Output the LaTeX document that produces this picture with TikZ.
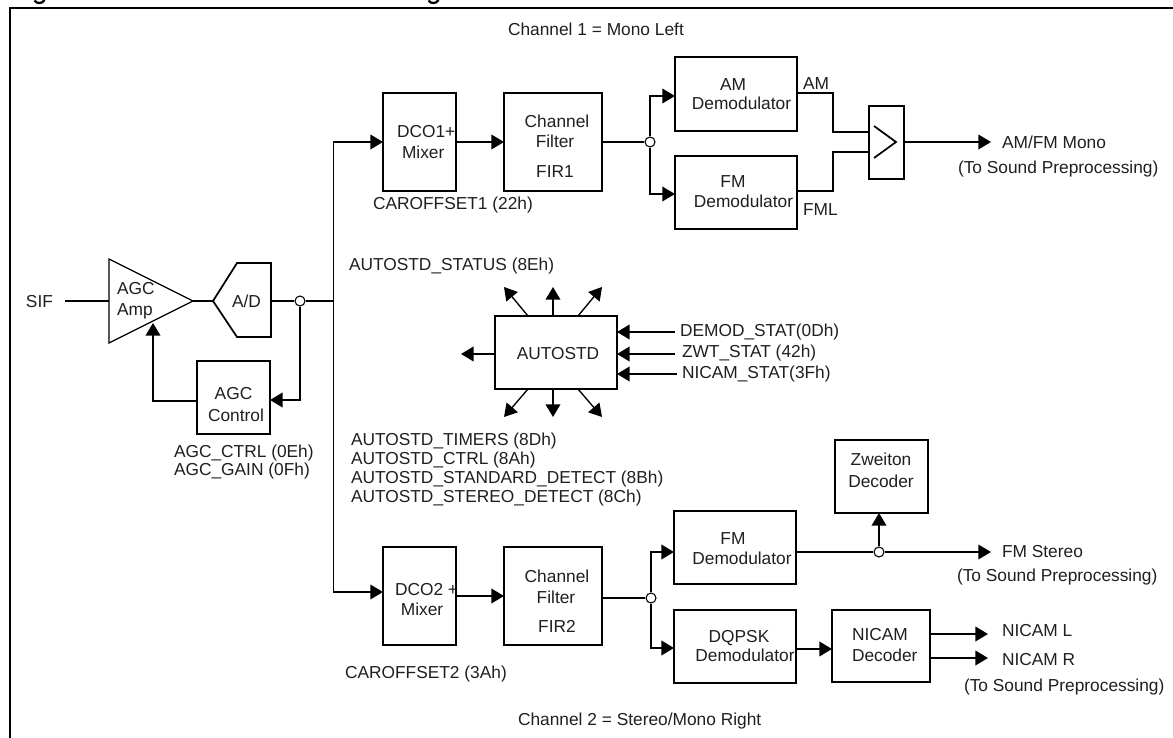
\documentclass[tikz,border=0pt]{standalone}
\usepackage{fontspec}
\setmainfont{Liberation Sans}
\usetikzlibrary{arrows.meta}
\tikzset{
  x=0.75pt,y=-0.75pt,
  blk/.style={draw,line width=1.3pt,inner sep=0pt,outer sep=0pt},
  txt/.style={inner sep=0pt,outer sep=0pt,font=\fontsize{13}{15}\selectfont,text height=9.3pt,text depth=0pt,text=black!88},
  lbl/.style={txt,anchor=west},
  wire/.style={line width=1.3pt},
  thinw/.style={line width=1.0pt},
  arr/.style={wire,-{Triangle[length=9.5pt,width=11pt]}},
  thinarr/.style={thinw,-{Triangle[length=9.5pt,width=11pt]}},
  dotn/.style={circle,draw,fill=white,line width=0.8pt,minimum size=7.5pt,inner sep=0pt},
}
% name, x1, y1, x2, y2
\newcommand{\bx}[5]{\node[blk,minimum width={(#4-#2)*0.75pt},minimum height={(#5-#3)*0.75pt}] (#1) at ({(#2+#4)/2},{(#3+#5)/2}) {};}
\begin{document}
\begin{tikzpicture}
\useasboundingbox (0,0) rectangle (1173,738);
% frame and the cut title's descenders
\draw[line width=1.5pt] (10,738) -- (10,8) -- (1173,8);
\draw[line width=1.7pt] (34.5,0.5) .. controls (37,4) and (42,4) .. (44.5,0);
\draw[line width=1.7pt] (428.5,0.5) .. controls (431,4) and (436,4) .. (438.5,0);
% captions
\node[lbl] (ch1) at (508,29) {Channel 1 = Mono Left};
\node[lbl] (ch2) at (518,719) {Channel 2 = Stereo/Mono Right};
% input
\node[lbl] (sif) at (26,301) {SIF};
\coordinate (sifend) at (65,301);
\draw[line width=0.9pt] (109,259) -- (193,301) -- (109,343) -- cycle;
\coordinate (ampin) at (109,301);
\coordinate (ampout) at (193,301);
\coordinate (ampfb) at (153,323);
\node[lbl] (ampa) at (117,288) {AGC};
\node[lbl] (ampb) at (117,309) {Amp};
\draw[wire] (213,301) -- (237,263) -- (271,263) -- (271,337) -- (237,337) -- cycle;
\coordinate (adin) at (213,301);
\coordinate (adout) at (271,301);
\node[lbl] (adt) at (232,301) {A/D};
\coordinate (bus) at (333.5,301);
\node[dotn] (d0) at (300,301) {};
\draw[wire] (sifend) -- (ampin);
\draw[wire] (ampout) -- (adin);
\draw[wire] (adout) -- (d0) -- (bus);
\bx{agc}{197}{361}{270}{434}
\node[txt] (agca) at (233.5,393) {AGC};
\node[txt] (agcb) at (236,415) {Control};
\draw[arr] (d0) -- (300,400) -- (agc.east |- 0,400);
\draw[arr] (agc.west |- 0,401) -- (153,401) -- (ampfb);
\node[lbl] (agct1) at (174,451) {AGC\_CTRL (0Eh)};
\node[lbl] (agct2) at (174,469) {AGC\_GAIN (0Fh)};
% channel 1
\bx{dco1}{383}{93}{456}{191}
\node[lbl] (dco1a) at (397,131) {DCO1+};
\node[lbl] (dco1b) at (402,152) {Mixer};
\bx{fir1}{504}{93}{602}{191}
\node[txt] (fir1a) at (557,121) {Channel};
\node[txt] (fir1b) at (555,141) {Filter};
\node[txt] (fir1c) at (555,171) {FIR1};
\node[lbl] (caro1) at (373,203) {CAROFFSET1 (22h)};
\draw[arr] (bus) -- (333.5,142) -- (dco1.west);
\draw[arr] (dco1.east) -- (fir1.west);
\bx{am}{675}{57}{797}{131}
\node[txt] (ama) at (733,84) {AM};
\node[txt] (amb) at (741.5,103) {Demodulator};
\bx{fm}{675}{156}{797}{229}
\node[txt] (fma) at (733,181) {FM};
\node[txt] (fmb) at (743.5,201) {Demodulator};
\node[dotn] (d1) at (650,142) {};
\draw[wire] (fir1.east) -- (d1);
\draw[thinarr] (d1) -- (650,96) -- (am.west |- 0,96);
\draw[thinarr] (d1) -- (650,194) -- (fm.west |- 0,194);
\node[lbl] (amout) at (803,83) {AM};
\node[lbl] (fmlout) at (803,209) {FML};
\bx{mux}{869}{106}{904}{179}
\draw[wire] (874,126) -- (896,142) -- (874,158);
\draw[wire] (am.east |- 0,93) -- (833,93) -- (833,132) -- (mux.west |- 0,132);
\draw[wire] (fm.east |- 0,191) -- (833,191) -- (833,152) -- (mux.west |- 0,152);
\coordinate (monoend) at (991,142);
\draw[arr] (mux.east |- monoend) -- (monoend);
\node[lbl] (mono) at (1002,142) {AM/FM Mono};
\node[lbl] (monop) at (958,167) {(To Sound Preprocessing)};
% AUTOSTD
\node[lbl] (stat) at (349,264) {AUTOSTD\_STATUS (8Eh)};
\bx{auto}{495}{316}{617}{389}
\node[txt] (autot) at (558,353) {AUTOSTD};
\coordinate (ul) at (504,287); \coordinate (uc) at (553,287); \coordinate (ur) at (602,287);
\coordinate (dl) at (504,417); \coordinate (dc) at (553,417); \coordinate (dr) at (602,417);
\coordinate (lf) at (461,354);
\draw[thinarr] (528,316) -- (ul);
\draw[arr] (uc |- auto.north) -- (uc);
\draw[thinarr] (578,316) -- (ur);
\draw[thinarr] (528,389) -- (dl);
\draw[arr] (dc |- auto.south) -- (dc);
\draw[thinarr] (578,389) -- (dr);
\draw[arr] (auto.west |- lf) -- (lf);
\node[lbl] (dem) at (680,330) {DEMOD\_STAT(0Dh)};
\node[lbl] (zwt) at (682,351) {ZWT\_STAT (42h)};
\node[lbl] (nic) at (682,372) {NICAM\_STAT(3Fh)};
\coordinate (demt) at (675,332);
\coordinate (zwtt) at (675,354);
\coordinate (nict) at (677,374);
\draw[arr] (demt) -- (auto.east |- demt);
\draw[arr] (zwtt) -- (auto.east |- zwtt);
\draw[arr] (nict) -- (auto.east |- nict);
\node[lbl] (t1) at (351,439) {AUTOSTD\_TIMERS (8Dh)};
\node[lbl] (t2) at (351,458) {AUTOSTD\_CTRL (8Ah)};
\node[lbl] (t3) at (351,477) {AUTOSTD\_STANDARD\_DETECT (8Bh)};
\node[lbl] (t4) at (351,496) {AUTOSTD\_STEREO\_DETECT (8Ch)};
% channel 2
\bx{dco2}{383}{547}{456}{645}
\node[lbl] (dco2a) at (395,589) {DCO2 +};
\node[txt] (dco2b) at (422,609) {Mixer};
\bx{fir2}{504}{547}{602}{645}
\node[txt] (fir2a) at (557,576) {Channel};
\node[txt] (fir2b) at (556,597) {Filter};
\node[txt] (fir2c) at (557,626) {FIR2};
\node[lbl] (caro2) at (345,672) {CAROFFSET2 (3Ah)};
\draw[arr] (bus) -- (333.5,592) -- (dco2.west |- 0,592);
\draw[arr] (dco2.east) -- (fir2.west);
\bx{fm2}{674}{511}{796}{584}
\node[txt] (fm2a) at (733,538) {FM};
\node[txt] (fm2b) at (742,558) {Demodulator};
\bx{dq}{674}{610}{796}{683}
\node[txt] (dqa) at (739,636) {DQPSK};
\node[txt] (dqb) at (745,655) {Demodulator};
\node[dotn] (d2) at (651,598) {};
\draw[wire] (fir2.east |- d2) -- (d2);
\draw[arr] (d2) -- (651,552) -- (fm2.west |- 0,552);
\draw[arr] (d2) -- (651,648) -- (dq.west |- 0,648);
\bx{zw}{835}{440}{928}{513}
\node[txt] (zwa) at (881,459) {Zweiton};
\node[txt] (zwb) at (881,481) {Decoder};
\node[dotn] (d3) at (879,552) {};
\coordinate (fmsend) at (991,552);
\draw[wire] (fm2.east |- d3) -- (d3);
\draw[arr] (d3) -- (fmsend);
\draw[arr] (d3) -- (d3 |- zw.south);
\node[lbl] (fms) at (1002,551) {FM Stereo};
\node[lbl] (fmsp) at (957,575) {(To Sound Preprocessing)};
\bx{nd}{832}{610}{930}{682}
\node[lbl] (nda) at (852,634) {NICAM};
\node[lbl] (ndb) at (852,655) {Decoder};
\draw[arr] (dq.east |- 0,649) -- (nd.west |- 0,649);
\coordinate (nlend) at (988,634);
\coordinate (nrend) at (988,658);
\draw[arr] (nd.east |- nlend) -- (nlend);
\draw[arr] (nd.east |- nrend) -- (nrend);
\node[lbl] (nl) at (1002,630) {NICAM L};
\node[lbl] (nr) at (1002,659) {NICAM R};
\node[lbl] (nicp) at (964,685) {(To Sound Preprocessing)};
\end{tikzpicture}
\end{document}
